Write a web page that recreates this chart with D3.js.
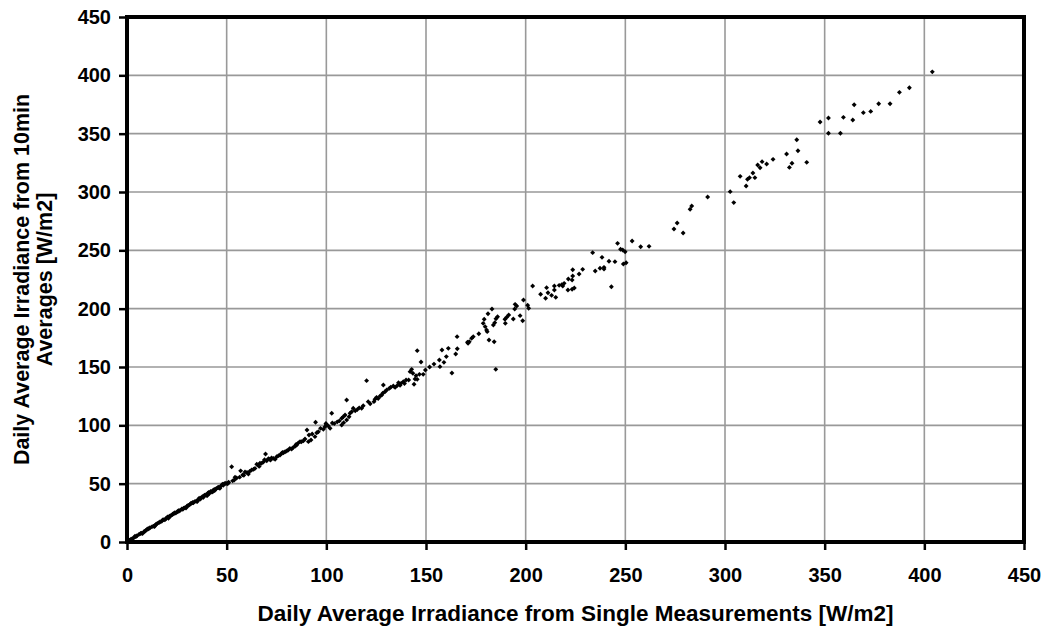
<!DOCTYPE html>
<html>
<head>
<meta charset="utf-8">
<script src="https://cdn.jsdelivr.net/npm/d3@7"></script>
<style>
  html, body { margin: 0; padding: 0; background: #fff; }
  svg text { font-family: "Liberation Sans", Arial, sans-serif; font-weight: bold; fill: #000; }
</style>
</head>
<body>
<svg id="chart" width="1057" height="634"></svg>
<script>
// Daily average irradiance: single measurements (x) vs 10-minute averages (y), W/m2
const singleMeas = [
  0.5, 1.2, 2, 2.5, 3, 3.8, 4.5, 5, 6, 6.8, 7.2, 8.5, 9, 9.5, 10.5, 11, 11.5, 12.5, 13.2, 14,
  14.5, 15.2, 16, 16.5, 17.4, 18.5, 19, 19.6, 20.3, 21.2, 21.6, 22, 22.8, 23.7, 24, 24.5, 25.3, 26, 26.7, 27.5,
  28, 28.4, 29.1, 30.2, 30.6, 31, 31.8, 32.5, 33, 33.3, 34.1, 34.9, 35.6, 36.2, 36.6, 37, 37.8, 38.2, 38.5, 39.2,
  39.9, 40.6, 41, 41.3, 42, 42.6, 43, 43.3, 44, 44.7, 45.4, 45.8, 46.2, 47, 47.6, 48, 48.3, 49, 49.6, 50.3,
  51, 52.5, 53.8, 55, 56.5, 57, 58, 59.2, 60.9, 61.5, 62.5, 63.5, 64.2, 65.1, 65.9, 66.7, 67.5, 68.4, 69.5, 70.1,
  71, 71.7, 72.5, 73.4, 74.3, 75.1, 76, 76.8, 77.6, 78.5, 79.3, 80.1, 80.9, 81.7, 82.6, 83.4, 84.3, 85.1, 86, 86.8,
  88.5, 89.3, 90.3, 91, 91.3, 92.3, 92.9, 94.3, 94.6, 96, 97.1, 98.5, 99.3, 100, 101, 101.9, 102.7, 103, 104, 105.5,
  106.5, 107.7, 107.7, 108.5, 108.7, 109.4, 110.2, 110.2, 111.4, 111.9, 112.7, 113.5, 114.5, 115.5, 116.5, 117.7, 118.5, 120.2, 121, 122,
  123.9, 124.4, 125.2, 126, 127, 127.8, 128.3, 128.6, 129.4, 130.3, 131.6, 132.3, 133.6, 134.5, 135.5, 136.2, 137, 137.5, 138.6, 139.2,
  140, 141.3, 142, 142.8, 143.4, 144, 144.5, 145, 145.6, 145.6, 146.7, 147.5, 148.6, 149.7, 151.8, 154, 156.7, 157, 158, 159,
  160.2, 161.2, 163, 164.9, 165.6, 165.7, 170.8, 171.1, 171.7, 172.9, 173.7, 176.5, 178.7, 179.2, 179.7, 180.4, 180.7, 181.1, 181.6, 183.1,
  183.8, 184.2, 184.5, 185, 185.1, 185.9, 189.6, 189.8, 190.5, 191.5, 193.8, 194.5, 194.7, 195.5, 197.2, 198.5, 198.9, 201, 201.5, 203.5,
  207.5, 210, 210.5, 211.2, 213, 214.4, 214.4, 215.1, 216.8, 218.1, 218.6, 219.3, 221.2, 221.4, 223.3, 223.3, 223.6, 223.6, 224.4, 226.8,
  228.6, 233.6, 234.9, 237.3, 238.3, 239.3, 239.3, 241.8, 243, 244.8, 246.1, 247.6, 248.7, 249, 249.9, 250.4, 253.4, 257.7, 261.9, 274.4,
  276, 279, 282.5, 283.3, 291.3, 302.6, 304.4, 307.6, 310.6, 311.3, 312.3, 314, 315, 316.4, 317.6, 318.6, 320.9, 324.1, 330.9, 332.3,
  333.6, 336, 336.6, 341, 347.7, 351.9, 351.9, 357.9, 359.4, 364.1, 364.8, 369.4, 373.1, 377.1, 382.8, 387.5, 392.5, 404,
  1.8, 4, 7.8, 10.2, 13.8, 17.9, 20.8, 23.2, 25.8, 29.6, 32, 35.2, 38.8, 40.3, 43.8, 46.6, 48.8, 50.8, 53, 54.2,
  58.6, 60.2, 66.3, 69, 72, 78, 84.8, 87.5, 95.2, 99.8
];
const tenMinAvg = [
  0.6, 1.5, 2.3, 2.6, 3.1, 4.2, 4.6, 5.4, 6.5, 7.3, 7.6, 8.8, 9.2, 10, 11, 11.6, 12.2, 13, 13.6, 14.2,
  15, 15.8, 16.6, 17.1, 17.8, 19.2, 19.1, 20.1, 21.4, 21.8, 22.4, 22.5, 23.6, 24.5, 25.1, 24.8, 25.9, 26.4, 27.2, 28.3,
  28, 28.9, 29.5, 30.9, 31.2, 31.4, 32.5, 33.3, 33.9, 33.6, 34.8, 35.2, 36.1, 37.5, 36.5, 37.5, 38.9, 38.2, 39.1, 40.3,
  40.1, 41.9, 42.5, 41.5, 43.4, 42.8, 43.1, 44.5, 44.2, 45.6, 46.4, 46.9, 46.5, 47.8, 48.9, 49.5, 48.6, 49.8, 50.5, 49.8,
  51.2, 64.5, 53.1, 54.8, 55.6, 61, 57.5, 60, 58.3, 60.5, 61.7, 62.4, 63.1, 66.6, 66, 67.5, 67.4, 68.6, 75.4, 69.7,
  71.5, 70.9, 72, 71.7, 70.9, 73.1, 74, 74.6, 76, 76.5, 77.4, 78, 78.9, 80.2, 79.7, 81.1, 82, 83.1, 85, 86,
  86.8, 88.3, 96, 86, 91.7, 87.4, 92.6, 90.3, 102.6, 94.5, 97.4, 96.6, 98.8, 100.5, 99.4, 97.4, 110.3, 102, 101.5, 103,
  103.8, 100.3, 106, 107.4, 102.3, 108.9, 104.6, 121.7, 107.4, 110.3, 111.7, 114.6, 112.5, 113.5, 115, 114.6, 116.8, 138.3, 120.3, 118.5,
  120.3, 122.3, 124, 123, 125.1, 126, 127.5, 134.6, 128.8, 130.3, 131.7, 132.6, 133.7, 132.5, 134, 136.5, 134.3, 136, 137.4, 135.8,
  138.9, 138.9, 146, 148, 144.6, 135.2, 139.7, 142.6, 139.4, 164, 143.7, 154.3, 143.7, 147.4, 150, 152.5, 156, 150.3, 164.6, 154,
  158.9, 166, 144.9, 161.1, 176, 165.7, 171.2, 170.3, 171.7, 174.6, 176, 178.5, 187.4, 190.9, 184.6, 181.7, 180.3, 195.7, 173.1, 199.7,
  186, 171.7, 188, 148, 191.4, 193.1, 190.9, 187.4, 192.6, 194.6, 191.1, 199.7, 203.7, 202.3, 194, 189.7, 207.4, 202.9, 200.3, 219.4,
  212.3, 208.9, 218, 213.7, 211.4, 219.4, 216, 209.7, 220, 220.6, 219.4, 221.7, 216, 225.4, 224.6, 216.6, 233.4, 228, 217.7, 229.7,
  233.7, 248, 232.3, 234.6, 244, 235.4, 234, 240.6, 218.8, 240.3, 256, 250.9, 250.3, 238.3, 248.8, 239.4, 258, 253.1, 253.4, 268.3,
  273.4, 264.9, 285.2, 288, 295.7, 300.3, 290.9, 313.4, 305.1, 310.9, 312.3, 316.3, 312.3, 323.1, 320.8, 326, 324, 328, 332.6, 321.1,
  324.6, 344.8, 335.4, 325.4, 360, 363.4, 350.3, 350.3, 364, 361.7, 374.8, 368, 369.1, 375.7, 375.7, 385.4, 389.4, 403,
  1.4, 4.9, 7.2, 11.1, 13.2, 18.9, 20.4, 24.2, 26.9, 29.2, 33.1, 34.6, 40, 39.8, 45, 46, 50, 50.6, 52.4, 55.5,
  57.2, 59.6, 64.8, 70.5, 70.2, 76.8, 83.6, 85.9, 93.6, 101.6
];
const tickValues = [0, 50, 100, 150, 200, 250, 300, 350, 400, 450];
const xTitle = "Daily Average Irradiance from Single Measurements [W/m2]";
const yTitleLines = ["Daily Average Irradiance from 10min", "Averages [W/m2]"];

const points = singleMeas.map((v, i) => ({ x: v, y: tenMinAvg[i] }));

const svg = d3.select("#chart");
const margin = { left: 127, right: 1057 - 1024, top: 17, bottom: 634 - 542 };
const W = 1057, H = 634;

const x = d3.scaleLinear().domain([0, 450]).range([margin.left, W - margin.right]);
const y = d3.scaleLinear().domain([0, 450]).range([H - margin.bottom, margin.top]);

// grid lines
const grid = svg.append("g");
grid.selectAll("line.v").data(tickValues.slice(1, -1)).join("line")
  .attr("x1", d => x(d)).attr("x2", d => x(d))
  .attr("y1", y(0)).attr("y2", y(450))
  .attr("stroke", "#999").attr("stroke-width", 1.6);
grid.selectAll("line.h").data(tickValues.slice(1, -1)).join("line")
  .attr("y1", d => y(d)).attr("y2", d => y(d))
  .attr("x1", x(0)).attr("x2", x(450))
  .attr("stroke", "#999").attr("stroke-width", 1.6);

// axes
const tickFont = 20;
const xAxis = d3.axisBottom(x).tickValues(tickValues).tickSize(8).tickPadding(18).tickFormat(d3.format("d"));
const yAxis = d3.axisLeft(y).tickValues(tickValues).tickSize(8).tickPadding(8).tickFormat(d3.format("d"));

const gx = svg.append("g").attr("transform", `translate(0,${y(0)})`).call(xAxis);
const gy = svg.append("g").attr("transform", `translate(${x(0)},0)`).call(yAxis);
[gx, gy].forEach(g => {
  g.select(".domain").remove();
  g.selectAll(".tick line").attr("stroke", "#000").attr("stroke-width", 2.5);
  g.selectAll(".tick text").attr("font-size", tickFont).attr("font-weight", "bold")
    .attr("font-family", "'Liberation Sans', Arial, sans-serif");
});

// plot frame
svg.append("rect")
  .attr("x", x(0)).attr("y", y(450))
  .attr("width", x(450) - x(0)).attr("height", y(0) - y(450))
  .attr("fill", "none").attr("stroke", "#000").attr("stroke-width", 4);

// data markers
svg.append("g").selectAll("path").data(points).join("path")
  .attr("d", d3.symbol().type(d3.symbolSquare).size(12))
  .attr("transform", d => `translate(${x(d.x)},${y(d.y)}) rotate(45)`)
  .attr("fill", "#000");

// axis titles
svg.append("text")
  .attr("x", (x(0) + x(450)) / 2).attr("y", 621)
  .attr("text-anchor", "middle").attr("font-size", 22.5)
  .text(xTitle);

const yc = (y(0) + y(450)) / 2;
yTitleLines.forEach((t, i) => {
  svg.append("text")
    .attr("transform", `translate(${29 + i * 23},${yc}) rotate(-90)`)
    .attr("text-anchor", "middle").attr("font-size", 21.5)
    .text(t);
});
</script>
</body>
</html>
